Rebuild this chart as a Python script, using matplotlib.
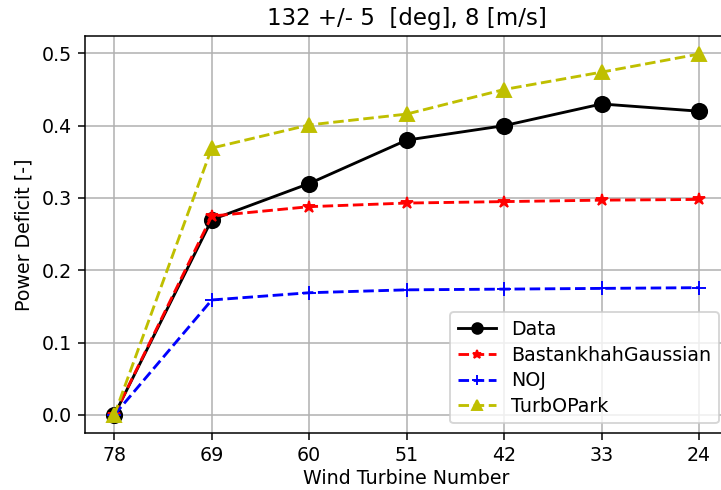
import matplotlib
matplotlib.use("Agg")
import matplotlib.pyplot as plt

turbines = ["78", "69", "60", "51", "42", "33", "24"]
data = [0.0, 0.27, 0.32, 0.38, 0.40, 0.43, 0.42]
bastankhah = [0.0, 0.275, 0.288, 0.293, 0.295, 0.297, 0.298]
noj = [0.0, 0.159, 0.169, 0.173, 0.174, 0.175, 0.176]
turbopark = [0.0, 0.369, 0.401, 0.416, 0.450, 0.474, 0.499]

DPI = 137
fig = plt.figure(figsize=(721 / DPI, 490 / DPI), dpi=DPI)
ax = fig.add_axes([0.118, 0.1163, 0.892, 0.8102])

x = list(range(len(turbines)))
ax.plot(x, data, 'k-o', ms=8, label='Data')
ax.plot(x, bastankhah, 'r--*', ms=6.5, label='BastankhahGaussian')
ax.plot(x, noj, 'b--+', ms=7, label='NOJ')
ax.plot(x, turbopark, 'y--^', ms=7, label='TurbOPark')

ax.set_xticks(x)
ax.set_xticklabels(turbines)
ax.set_yticks([0.0, 0.1, 0.2, 0.3, 0.4, 0.5])
ax.grid(True)
ax.set_axisbelow(True)
ax.set_xlabel('Wind Turbine Number', labelpad=2)
ax.set_ylabel('Power Deficit [-]')
ax.set_title('132 +/- 5  [deg], 8 [m/s]')
ax.legend(loc='lower right', markerscale=0.7, labelspacing=0.35)

fig.savefig('out.png', dpi=DPI)
